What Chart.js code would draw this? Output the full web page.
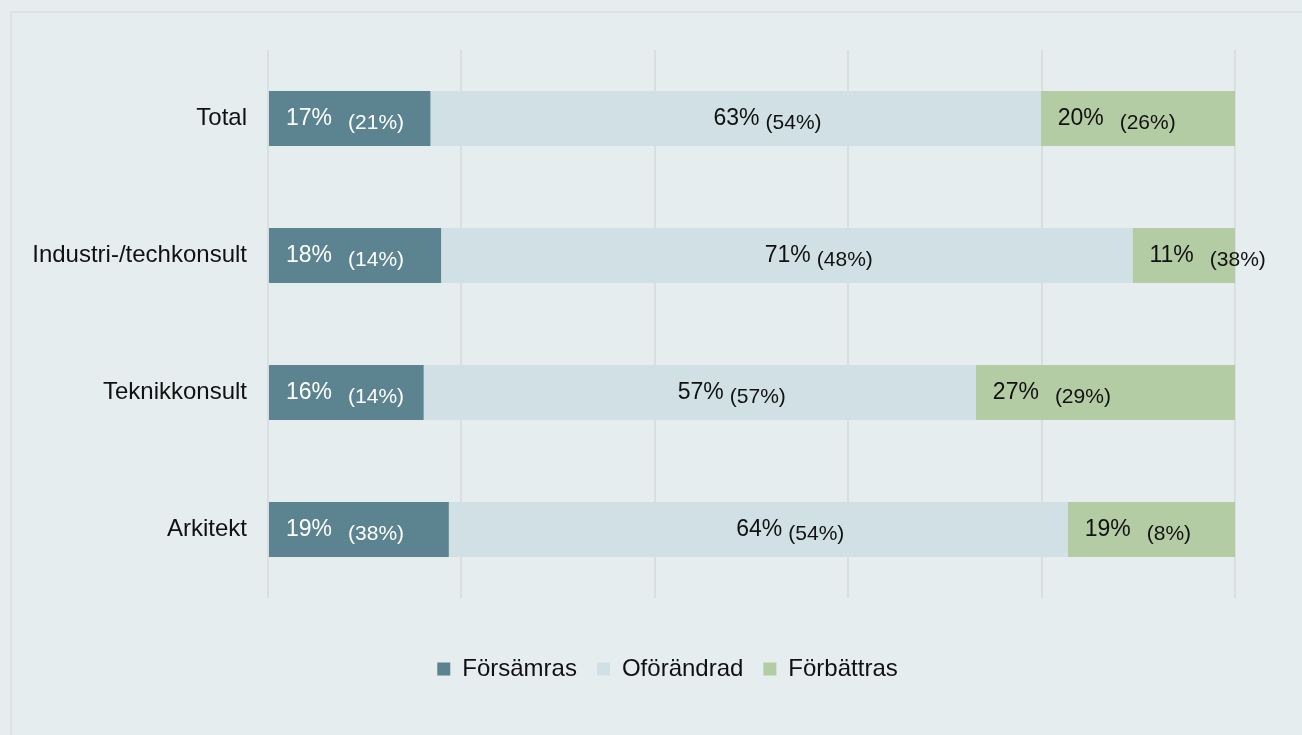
<!DOCTYPE html>
<html>
<head>
<meta charset="utf-8">
<script src="https://cdn.jsdelivr.net/npm/chart.js@4.4.0/dist/chart.umd.min.js"></script>
<style>
    html, body {
        margin: 0;
        padding: 0;
        background: #e5edef;
        overflow: hidden;
    }
    .frame {
        position: absolute;
        left: 10px;
        top: 11px;
        width: 1300px;
        height: 730px;
        border-top: 2px solid #dde3e2;
        border-left: 2px solid #dde3e2;
    }
    .wrap {
        position: absolute;
        left: 0;
        top: 0;
        width: 1302px;
        height: 735px;
    }
</style>
</head>
<body>
<div class="frame"></div>
<div class="wrap"><canvas id="chart"></canvas></div>
<script>
// categories and series (share of answers, %)
var categories = ['Total', 'Industri-/techkonsult', 'Teknikkonsult', 'Arkitekt'];
var seriesNames = ['Försämras', 'Oförändrad', 'Förbättras'];
var worse = [16.8, 17.9, 16.1, 18.7];
var unchanged = [63.1, 71.5, 57.1, 64.0];
var better = [20.1, 10.6, 26.8, 17.3];

// printed labels: this year and previous year (in parentheses)
var worseNow = [17, 18, 16, 19];
var worsePrev = [21, 14, 14, 38];
var unchangedNow = [63, 71, 57, 64];
var unchangedPrev = [54, 48, 57, 54];
var betterNow = [20, 11, 27, 19];
var betterPrev = [26, 38, 29, 8];

var xTicks = [0, 20, 40, 60, 80, 100];

var colors = ['#5b8490', '#d0e0e4', '#b3cca3'];
var fontFamily = '"Liberation Sans", Arial, sans-serif';

var nowLabels = [worseNow, unchangedNow, betterNow];
var prevLabels = [worsePrev, unchangedPrev, betterPrev];

// draws "17%  (21%)" inside each segment
var segmentLabels = {
    id: 'segmentLabels',
    afterDatasetsDraw: function (chart) {
        var ctx = chart.ctx;
        ctx.save();
        ctx.textBaseline = 'middle';
        ctx.textAlign = 'left';
        chart.data.datasets.forEach(function (ds, i) {
            var meta = chart.getDatasetMeta(i);
            meta.data.forEach(function (el, j) {
                var p = el.getProps(['x', 'y', 'base'], true);
                var left = Math.min(p.x, p.base);
                var right = Math.max(p.x, p.base);
                var main = nowLabels[i][j] + '%';
                var prev = '(' + prevLabels[i][j] + '%)';

                ctx.font = '23px ' + fontFamily;
                var mainW = ctx.measureText(main).width;
                ctx.font = '21px ' + fontFamily;
                var prevW = ctx.measureText(prev).width;

                var x, gap;
                if (i === 1) {
                    gap = 6;
                    x = (left + right) / 2 + 32 - (mainW + gap + prevW) / 2;
                } else {
                    gap = 16;
                    x = left + 17;
                }
                ctx.fillStyle = i === 0 ? '#ffffff' : '#111111';
                ctx.font = '23px ' + fontFamily;
                ctx.fillText(main, x, p.y);
                ctx.font = '21px ' + fontFamily;
                ctx.fillText(prev, x + mainW + gap, p.y + 5);
            });
        });
        ctx.restore();
    }
};

// the legend sits a bit right of the canvas centre in the original
var legendShift = {
    id: 'legendShift',
    afterLayout: function (chart) {
        chart.legend.left = 100;
    }
};

var ctx = document.getElementById('chart').getContext('2d');
var chart = new Chart(ctx, {
    type: 'bar',
    data: {
        labels: categories,
        datasets: [
            { label: seriesNames[0], data: worse, backgroundColor: colors[0] },
            { label: seriesNames[1], data: unchanged, backgroundColor: colors[1] },
            { label: seriesNames[2], data: better, backgroundColor: colors[2] }
        ]
    },
    options: {
        indexAxis: 'y',
        responsive: true,
        maintainAspectRatio: false,
        animation: false,
        categoryPercentage: 0.4,
        barPercentage: 1,
        layout: {
            padding: { top: 50, right: 67, bottom: 44, left: 0 }
        },
        scales: {
            x: {
                stacked: true,
                min: 0,
                max: 100,
                afterBuildTicks: function (scale) {
                    scale.ticks = xTicks.map(function (v) { return { value: v }; });
                },
                afterFit: function (scale) {
                    scale.height = 39;
                },
                ticks: { display: false },
                border: { display: false },
                grid: {
                    color: '#d9dfdf',
                    lineWidth: 2,
                    drawTicks: false
                }
            },
            y: {
                stacked: true,
                afterFit: function (scale) {
                    scale.width = 268;
                },
                border: { display: false },
                grid: { display: false, drawTicks: false },
                ticks: {
                    padding: 21,
                    color: '#111111',
                    font: { family: fontFamily, size: 24 }
                }
            }
        },
        plugins: {
            tooltip: { enabled: false },
            legend: {
                position: 'bottom',
                labels: {
                    boxWidth: 13,
                    boxHeight: 13,
                    padding: 20,
                    color: '#111111',
                    font: { family: fontFamily, size: 24 }
                }
            }
        }
    },
    plugins: [segmentLabels, legendShift]
});
</script>
</body>
</html>
